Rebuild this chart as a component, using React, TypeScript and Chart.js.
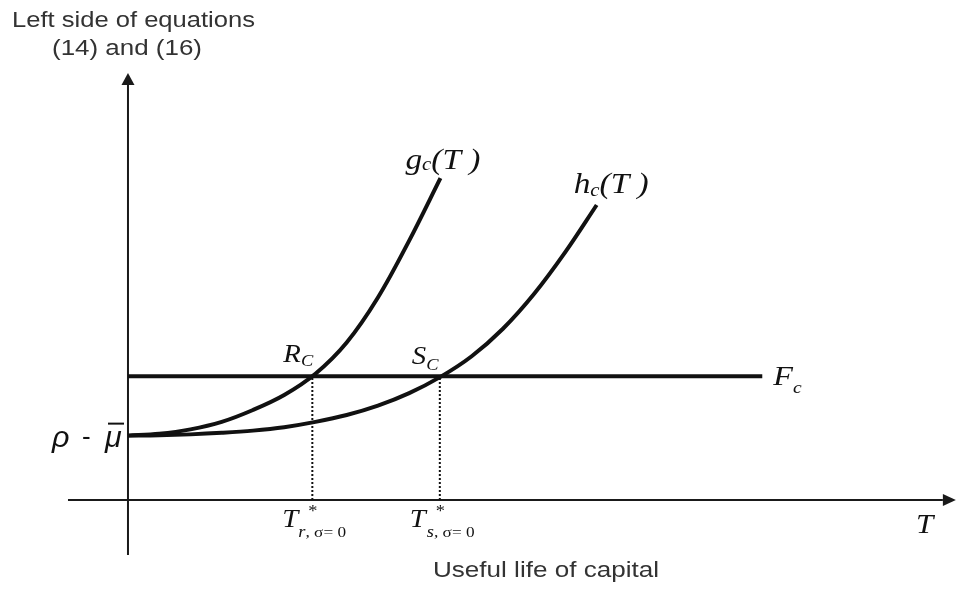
import React, { useEffect, useRef } from "react";
import { Chart, registerables } from "chart.js";

Chart.register(...registerables);

// ---- data (schematic values in abstract units) ----
const gT = [0, 0.5, 1, 1.5, 2, 2.5, 3, 3.5, 4, 4.5, 5];
const gY = [1.03, 1.06, 1.13, 1.25, 1.44, 1.68, 2.02, 2.52, 3.24, 4.15, 5.15];

const hT = [0, 0.5, 1, 1.5, 2, 2.5, 3, 3.5, 4, 4.5, 5, 5.5, 6, 6.5, 7, 7.5];
const hY = [1.03, 1.035, 1.05, 1.075, 1.11, 1.165, 1.25, 1.36, 1.51, 1.71, 1.97, 2.3, 2.74, 3.3, 3.97, 4.72];

const fcLevel = 1.98;
const fcT = [0, 10.15];
const rT = 2.95; // T*_{r, sigma=0}
const sT = 4.99; // T*_{s, sigma=0}
const xAxisT = [-0.96, 13.04];
const yAxisY = [-0.88, 6.64];
const xRange = [-2.048, 13.25];
const yRange = [-1.504, 8];

const pts = (xs: number[], ys: number[]) => xs.map((x, i) => ({ x, y: ys[i] }));

const SERIF = "'Liberation Serif', 'Times New Roman', serif";
const SANS = "'Liberation Sans', Arial, sans-serif";
const SX = 1.15; // horizontal stretch of the lettering

function txt(ctx: CanvasRenderingContext2D, s: string, x: number, y: number, font: string, color = "#111", sx = SX) {
  ctx.save();
  ctx.font = font;
  ctx.fillStyle = color;
  ctx.textBaseline = "alphabetic";
  ctx.textAlign = "left";
  ctx.translate(x, y);
  ctx.scale(sx, 1);
  ctx.fillText(s, 0, 0);
  const w = ctx.measureText(s).width * sx;
  ctx.restore();
  return x + w;
}

function fitText(ctx: CanvasRenderingContext2D, s: string, x: number, y: number, font: string, width: number, color: string) {
  ctx.save();
  ctx.font = font;
  const w = ctx.measureText(s).width;
  ctx.restore();
  txt(ctx, s, x, y, font, color, width / w);
}

const labelsPlugin = {
  id: "schematicLabels",
  afterDatasetsDraw(chart: any) {
    const ctx: CanvasRenderingContext2D = chart.ctx;
    const xs = chart.scales.x;
    const ys = chart.scales.y;
    const px = (v: number) => xs.getPixelForValue(v);
    const py = (v: number) => ys.getPixelForValue(v);

    // arrowheads
    ctx.save();
    ctx.fillStyle = "#1a1a1a";
    const ox = px(0);
    const yTop = py(yAxisY[1]);
    ctx.beginPath();
    ctx.moveTo(ox, yTop - 12);
    ctx.lineTo(ox - 6.5, yTop);
    ctx.lineTo(ox + 6.5, yTop);
    ctx.closePath();
    ctx.fill();
    const oy = py(0);
    const xEnd = px(xAxisT[1]);
    ctx.beginPath();
    ctx.moveTo(xEnd + 13, oy);
    ctx.lineTo(xEnd, oy - 6);
    ctx.lineTo(xEnd, oy + 6);
    ctx.closePath();
    ctx.fill();
    ctx.restore();

    // axis titles (sans)
    fitText(ctx, "Left side of equations", 12, 27, `22px ${SANS}`, 243, "#333");
    fitText(ctx, "(14) and (16)", 52, 55, `22px ${SANS}`, 150, "#333");
    fitText(ctx, "Useful life of capital", 433, 577, `22px ${SANS}`, 226, "#333");

    // curve labels
    const gx = px(gT[gT.length - 1]) - 35;
    const gy = py(gY[gY.length - 1]) - 9;
    let e = txt(ctx, "g", gx, gy, `italic 29px ${SERIF}`);
    e = txt(ctx, "c", e, gy + 1, `italic 18px ${SERIF}`);
    txt(ctx, "(T )", e, gy, `italic 29px ${SERIF}`);

    const hx = px(hT[hT.length - 1]) - 23;
    const hy = py(hY[hY.length - 1]) - 12;
    e = txt(ctx, "h", hx, hy, `italic 29px ${SERIF}`);
    e = txt(ctx, "c", e, hy + 3, `italic 18px ${SERIF}`);
    txt(ctx, "(T )", e, hy, `italic 29px ${SERIF}`);

    // intersection labels
    const fy = py(fcLevel);
    e = txt(ctx, "R", px(rT) - 29, fy - 14, `italic 25px ${SERIF}`);
    txt(ctx, "C", e, fy - 10, `italic 16px ${SERIF}`);
    e = txt(ctx, "S", px(sT) - 28, fy - 12, `italic 25px ${SERIF}`);
    txt(ctx, "C", e, fy - 6, `italic 16px ${SERIF}`);

    e = txt(ctx, "F", px(fcT[1]) + 11, fy + 9, `italic 28px ${SERIF}`);
    txt(ctx, "c", e, fy + 17, `italic 17px ${SERIF}`);

    // x-axis tick labels
    const tb = oy + 27;
    e = txt(ctx, "T", px(rT) - 30, tb, `italic 25px ${SERIF}`);
    txt(ctx, "*", px(rT) - 4, tb - 11, `16px ${SERIF}`);
    let s = txt(ctx, "r", e, tb + 10, `italic 16px ${SERIF}`);
    txt(ctx, ", σ= 0", s, tb + 10, `15px ${SERIF}`, "#111", 1.15);

    e = txt(ctx, "T", px(sT) - 30, tb, `italic 25px ${SERIF}`);
    txt(ctx, "*", px(sT) - 4, tb - 11, `16px ${SERIF}`);
    s = txt(ctx, "s", e + 1, tb + 10, `italic 16px ${SERIF}`);
    txt(ctx, ", σ= 0", s, tb + 10, `15px ${SERIF}`, "#111", 1.15);

    txt(ctx, "T", 916, tb + 6, `italic 27px ${SERIF}`);

    // intercept label rho - mu-bar
    const iy = py(gY[0]) + 11;
    txt(ctx, "ρ", 52, iy, `italic 29px ${SANS}`, "#111", 1.05);
    txt(ctx, "-", 82, iy - 2, `26px ${SANS}`, "#111", 1.0);
    txt(ctx, "μ", 105, iy, `italic 29px ${SANS}`, "#111", 1.05);
    ctx.save();
    ctx.strokeStyle = "#111";
    ctx.lineWidth = 2;
    ctx.beginPath();
    ctx.moveTo(108, iy - 23);
    ctx.lineTo(124, iy - 23);
    ctx.stroke();
    ctx.restore();
  },
};

export default function App() {
  const ref = useRef<HTMLCanvasElement | null>(null);

  useEffect(() => {
    document.body.style.margin = "0";
    const canvas = ref.current;
    if (!canvas) return;
    const curve = (label: string, data: { x: number; y: number }[]) => ({
      label,
      data,
      showLine: true,
      borderColor: "#111",
      borderWidth: 4,
      pointRadius: 0,
      tension: 0.35,
    });
    const chart = new Chart(canvas, {
      type: "scatter",
      data: {
        datasets: [
          curve("g_c(T)", pts(gT, gY)),
          curve("h_c(T)", pts(hT, hY)),
          {
            label: "F_c",
            data: pts(fcT, [fcLevel, fcLevel]),
            showLine: true,
            borderColor: "#111",
            borderWidth: 4,
            pointRadius: 0,
          },
          {
            label: "T*r",
            data: pts([rT, rT], [0, fcLevel]),
            showLine: true,
            borderColor: "#111",
            borderWidth: 2,
            borderDash: [2, 2],
            pointRadius: 0,
          },
          {
            label: "T*s",
            data: pts([sT, sT], [0, fcLevel]),
            showLine: true,
            borderColor: "#111",
            borderWidth: 2,
            borderDash: [2, 2],
            pointRadius: 0,
          },
          {
            label: "x axis",
            data: pts(xAxisT, [0, 0]),
            showLine: true,
            borderColor: "#1a1a1a",
            borderWidth: 2,
            pointRadius: 0,
          },
          {
            label: "y axis",
            data: pts([0, 0], yAxisY),
            showLine: true,
            borderColor: "#1a1a1a",
            borderWidth: 2,
            pointRadius: 0,
          },
        ],
      },
      options: {
        animation: false,
        responsive: false,
        events: [],
        layout: { padding: 0 },
        plugins: { legend: { display: false }, tooltip: { enabled: false } },
        scales: {
          x: { type: "linear", min: xRange[0], max: xRange[1], display: false },
          y: { type: "linear", min: yRange[0], max: yRange[1], display: false },
        },
      },
      plugins: [labelsPlugin],
    });
    return () => chart.destroy();
  }, []);

  return (
    <div style={{ width: 956, height: 594, background: "#fff" }}>
      <canvas ref={ref} width={956} height={594} style={{ display: "block" }} />
    </div>
  );
}
